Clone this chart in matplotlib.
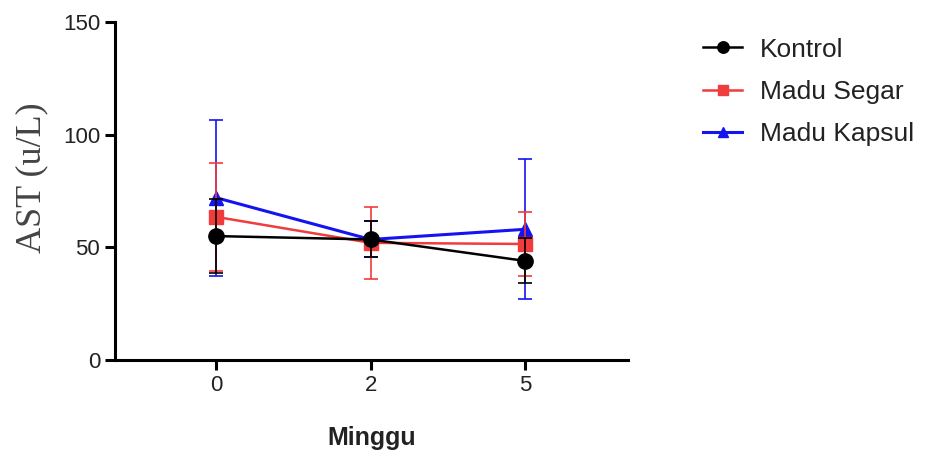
import matplotlib
matplotlib.use('Agg')
import matplotlib.pyplot as plt
import numpy as np

plt.rcParams['font.family'] = ['Liberation Sans', 'DejaVu Sans']

# data
WEEKS = ['0', '2', '5']
GROUPS = ['Kontrol', 'Madu Segar', 'Madu Kapsul']
KONTROL_MEAN = [55, 53.5, 44]
KONTROL_SD = [16.5, 8, 10]
SEGAR_MEAN = [63.5, 52, 51.5]
SEGAR_SD = [24, 16, 14]
KAPSUL_MEAN = [72, 53.5, 58]
KAPSUL_SD = [34.5, 8, 31]

# colour, marker, markersize, linewidth, zorder
STYLES = [
    ('#000000', 'o', 11, 1.8, 5),
    ('#F03C3C', 's', 10, 1.8, 4),
    ('#1414F0', '^', 10, 2.2, 3),
]

fig = plt.figure(figsize=(9.25, 4.5), dpi=100)
ax = fig.add_axes([0.124, 0.2, 0.555, 0.751])

x = np.arange(len(WEEKS))
series = [(KONTROL_MEAN, KONTROL_SD), (SEGAR_MEAN, SEGAR_SD), (KAPSUL_MEAN, KAPSUL_SD)]
handles = []
for (m, s), (c, mk, ms, lw, z), name in zip(series, STYLES, GROUPS):
    ax.errorbar(x, m, yerr=s, color=c, marker=mk, markersize=ms, linewidth=lw,
                elinewidth=1.2, capsize=5, capthick=1.2, zorder=z)
    # legend handle without the error bars
    h, = ax.plot([], [], color=c, marker=mk, markersize=ms * 0.75, linewidth=lw, label=name)
    handles.append(h)

ax.set_xlim(-0.66, 2.67)
ax.set_ylim(0, 150)
ax.set_yticks([0, 50, 100, 150])
ax.set_xticks(x)
ax.set_xticklabels(WEEKS)
for side in ['top', 'right']:
    ax.spines[side].set_visible(False)
for side in ['left', 'bottom']:
    ax.spines[side].set_linewidth(2.2)
ax.tick_params(width=2.2, length=7, labelsize=16, colors='black', labelcolor='#222222')

ax.set_ylabel('AST (u/L)', fontsize=26, family=['Liberation Serif'], color='#444444')
ax.yaxis.set_label_coords(-0.13, 0.54)
ax.set_xlabel('Minggu', fontsize=18, fontweight='bold', color='#222222', labelpad=22)

ax.legend(handles=handles, loc='upper left', bbox_to_anchor=(0.749, 0.94),
          bbox_transform=fig.transFigure, frameon=False, fontsize=19,
          handlelength=1.45, labelspacing=0.7, handletextpad=0.68,
          borderaxespad=0, labelcolor='#222222')

fig.savefig('out.png', dpi=100)
